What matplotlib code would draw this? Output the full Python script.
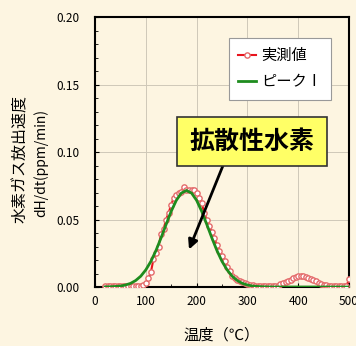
import numpy as np
import matplotlib
matplotlib.use("Agg")
import matplotlib.pyplot as plt
from matplotlib.ticker import MultipleLocator, FormatStrFormatter

plt.rcParams['font.family'] = ['Noto Sans CJK JP', 'DejaVu Sans']

# measured release rate (every 5 degC from 20 to 500)
temps = list(range(20, 505, 5))
measured = [
    0.0005, 0.0005, 0.0005, 0.0005, 0.0005, 0.0005, 0.0005, 0.0005, 0.0005, 0.0005,
    0.0005, 0.0005, 0.0005, 0.0005,                      # 20-85
    0.001, 0.0015, 0.003, 0.0064, 0.011, 0.0205, 0.025, 0.030, 0.039, 0.043,   # 90-135
    0.050, 0.055, 0.061, 0.066, 0.068, 0.0695, 0.0705, 0.0743, 0.072, 0.072,  # 140-185
    0.0715, 0.0715, 0.0695, 0.066, 0.062, 0.055, 0.0496, 0.045, 0.041, 0.036, # 190-235
    0.031, 0.027, 0.023, 0.019, 0.015, 0.012, 0.0085, 0.0065, 0.005, 0.0042,  # 240-285
    0.0037, 0.003, 0.0025, 0.0018, 0.0012, 0.0008,                            # 290-315
    0.0005, 0.0005, 0.0005, 0.0005, 0.0005, 0.0005, 0.0005, 0.0005, 0.0005,   # 320-360
    0.002, 0.0033, 0.004, 0.0048, 0.0055, 0.0064, 0.0072, 0.008, 0.0085,      # 365-405
    0.0082, 0.0072, 0.0066, 0.006, 0.0052, 0.0042, 0.0032, 0.0024, 0.0018,    # 410-450
    0.0012, 0.0008, 0.0008, 0.0008, 0.0008, 0.0008, 0.0008, 0.0008, 0.0008,   # 455-495
    0.0057,                                                                   # 500
]

# fitted peak I (every 10 degC from 20 to 500)
peak_temps = list(range(20, 510, 10))
peak1 = [
    0.0001, 0.0002, 0.0004, 0.0007, 0.0015, 0.0027, 0.0048, 0.0080, 0.0127, 0.0190,
    0.0270, 0.0364, 0.0464, 0.0561, 0.0642, 0.0696, 0.0715, 0.0696, 0.0642, 0.0561,
    0.0464, 0.0364, 0.0270, 0.0190, 0.0127, 0.0080, 0.0048, 0.0027, 0.0015, 0.0007,
    0.0004, 0.0002, 0.0001, 0.0, 0.0, 0.0, 0.0, 0.0, 0.0, 0.0,
    0.0, 0.0, 0.0, 0.0, 0.0, 0.0, 0.0, 0.0, 0.0,
]

bg = '#FDF5E1'
fig = plt.figure(figsize=(3.56, 3.46), dpi=100, facecolor=bg)
ax = fig.add_axes([0.2669, 0.1705, 0.7135, 0.7803])
ax.set_facecolor(bg)

ax.plot(temps, measured, color='#E8141E', lw=1.5, marker='o', ms=3.8,
        mfc='white', mec='#E46A6A', mew=1.0, label='実測値', zorder=3)
ax.plot(peak_temps, peak1, color='#1E8C1E', lw=2.0, label='ピークⅠ', zorder=4)

ax.set_xlim(0, 500)
ax.set_ylim(0, 0.20)
ax.xaxis.set_major_locator(MultipleLocator(100))
ax.xaxis.set_minor_locator(MultipleLocator(50))
ax.yaxis.set_major_locator(MultipleLocator(0.05))
ax.yaxis.set_minor_locator(MultipleLocator(0.01))
ax.yaxis.set_major_formatter(FormatStrFormatter('%.2f'))
ax.tick_params(which='both', direction='in', top=False, right=False, labelsize=8.5)
ax.tick_params(axis='y', which='major', length=3, pad=11)
ax.tick_params(axis='x', which='major', length=3, pad=6)
ax.tick_params(which='minor', length=2)
ax.grid(True, which='major', color='#CFC8B8', lw=0.7)
ax.set_axisbelow(True)
for s in ax.spines.values():
    s.set_linewidth(1.5)
    s.set_color('black')

ax.set_xlabel('温度（℃）', fontsize=11, labelpad=13)
fig.text(0.058, 0.54, '水素ガス放出速度', rotation=90, fontsize=11.5,
         ha='center', va='center')
fig.text(0.115, 0.53, 'dH/dt(ppm/min)', rotation=90, fontsize=10,
         ha='center', va='center')

leg = ax.legend(loc='upper right', bbox_to_anchor=(0.929, 0.922), fontsize=11,
                handlelength=1.2, handletextpad=0.3, borderpad=0.6,
                borderaxespad=0, labelspacing=0.6, fancybox=False,
                framealpha=1, edgecolor='#999999')
leg.get_frame().set_linewidth(0.8)

ax.text(309, 0.1078, '拡散性水素', fontsize=18, fontweight='bold',
        ha='center', va='center', zorder=6,
        bbox=dict(boxstyle='square,pad=0.5', fc='#FFFF66', ec='#333333', lw=1.2))
ax.annotate('', xy=(183, 0.0259), xytext=(254, 0.0919),
            arrowprops=dict(arrowstyle='-|>', color='black', lw=2,
                            mutation_scale=14), zorder=5)

fig.savefig('out.png', dpi=100, facecolor=bg)
